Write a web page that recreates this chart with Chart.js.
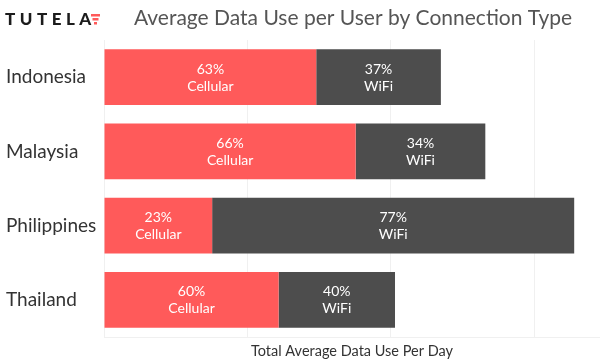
<!DOCTYPE html>
<html>
<head>
<meta charset="utf-8">
<script src="https://cdn.jsdelivr.net/npm/chart.js@4"></script>
<style>
  html, body { margin: 0; padding: 0; background: #fff; }
  #wrap { width: 600px; height: 360px; position: relative; }
</style>
</head>
<body>
<div id="wrap"><canvas id="chart"></canvas></div>
<script>
// ---- data ----
const countries = ['Indonesia', 'Malaysia', 'Philippines', 'Thailand'];
const totalUsePerDay = [2.35, 2.66, 3.28, 2.03]; // relative units, one gridline per unit
const cellularShare = [63, 66, 23, 60];
const wifiShare = [37, 34, 77, 40];
const seriesNames = ['Cellular', 'WiFi'];
const seriesColors = ['#ff5a5a', '#4d4d4d'];

const FONT = "Lato, 'Open Sans', sans-serif";

const cellularUse = totalUsePerDay.map((t, i) => t * cellularShare[i] / 100);
const wifiUse = totalUsePerDay.map((t, i) => t * wifiShare[i] / 100);
const shares = [cellularShare, wifiShare];

// labels inside each segment: "63%" / "Cellular"
const segmentLabels = {
  id: 'segmentLabels',
  afterDatasetsDraw(chart) {
    const { ctx } = chart;
    ctx.save();
    ctx.fillStyle = '#ffffff';
    ctx.textAlign = 'center';
    ctx.textBaseline = 'middle';
    ctx.font = `14px ${FONT}`;
    chart.data.datasets.forEach((ds, di) => {
      chart.getDatasetMeta(di).data.forEach((bar, i) => {
        const cx = (bar.x + bar.base) / 2;
        ctx.fillText(shares[di][i] + '%', cx, bar.y - 8);
        ctx.fillText(seriesNames[di], cx, bar.y + 9);
      });
    });
    ctx.restore();
  }
};

// brand mark + heading
const header = {
  id: 'header',
  afterDraw(chart) {
    const { ctx } = chart;
    ctx.save();
    ctx.textBaseline = 'middle';
    ctx.textAlign = 'left';
    ctx.fillStyle = '#1c1c1c';
    ctx.font = `900 17px ${FONT}`;
    let x = 5;
    for (const ch of 'TUTELA') {
      ctx.fillText(ch, x, 20);
      x += ctx.measureText(ch).width + 4.5;
    }
    // little red striped triangle
    ctx.fillStyle = '#ff5a5a';
    const tx = 91, ty = 14;
    [[0, 9], [1.5, 6], [3, 3]].forEach(([inset, w], k) => {
      ctx.fillRect(tx + inset, ty + k * 4, w, 2.5);
    });
    ctx.fillStyle = '#555555';
    ctx.textAlign = 'center';
    ctx.font = `21px ${FONT}`;
    ctx.fillText('Average Data Use per User by Connection Type', 353, 18);
    ctx.restore();
  }
};

new Chart(document.getElementById('chart'), {
  type: 'bar',
  data: {
    labels: countries,
    datasets: [
      { label: seriesNames[0], data: cellularUse, backgroundColor: seriesColors[0] },
      { label: seriesNames[1], data: wifiUse, backgroundColor: seriesColors[1] },
    ],
  },
  options: {
    indexAxis: 'y',
    responsive: true,
    maintainAspectRatio: false,
    animation: false,
    layout: { padding: { top: 40, left: 6, right: 0, bottom: 0 } },
    datasets: { bar: { barPercentage: 0.75, categoryPercentage: 1, borderWidth: 0 } },
    plugins: { legend: { display: false }, tooltip: { enabled: false }, title: { display: false } },
    scales: {
      x: {
        stacked: true,
        min: 0, max: 3.46,
        ticks: { display: false, stepSize: 1 },
        afterBuildTicks(scale) { scale.ticks = scale.ticks.filter(t => Number.isInteger(t.value)); },
        grid: { color: '#f0f0f0', drawTicks: false },
        border: { color: '#f0f0f0' },
        title: {
          display: true, text: 'Total Average Data Use Per Day', color: '#333333',
          font: { family: FONT, size: 14.5 }, padding: { top: 3, bottom: 0 },
        },
        afterFit(scale) { scale.height = 23; },
      },
      y: {
        stacked: true,
        grid: { display: false, drawTicks: false },
        border: { display: false },
        ticks: {
          color: '#333333', font: { family: FONT, size: 19 },
          crossAlign: 'far', padding: 6,
        },
        afterFit(scale) { scale.width = 98; },
      },
    },
  },
  plugins: [segmentLabels, header],
});
</script>
</body>
</html>
